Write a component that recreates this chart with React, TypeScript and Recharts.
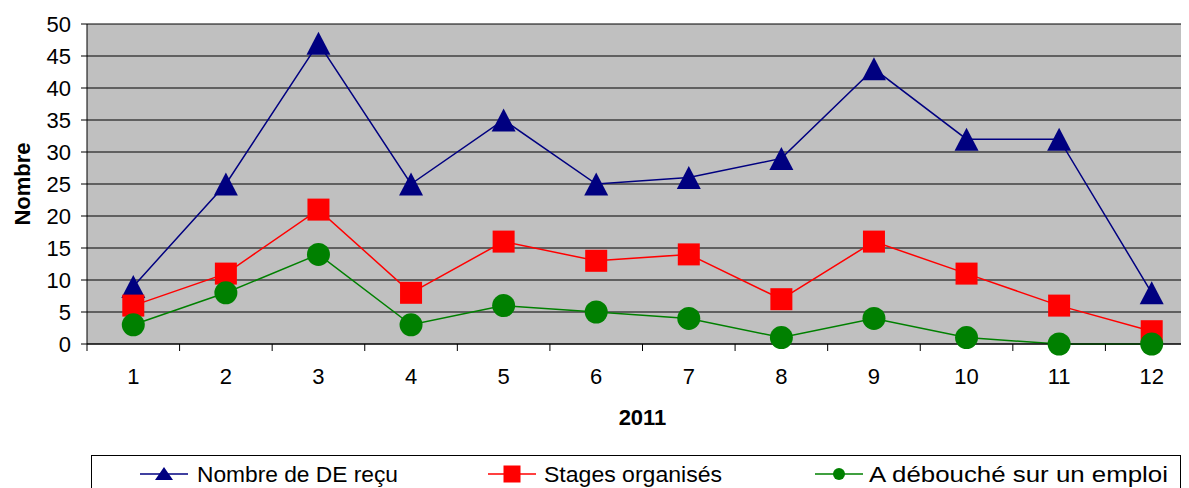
import React from 'react';
import { ComposedChart, Line, XAxis, YAxis, CartesianGrid, Legend } from 'recharts';

const months = ['1', '2', '3', '4', '5', '6', '7', '8', '9', '10', '11', '12'];
const deRecu = [9, 25, 47, 25, 35, 25, 26, 29, 43, 32, 32, 8];
const stages = [6, 11, 21, 8, 16, 13, 14, 7, 16, 11, 6, 2];
const emploi = [3, 8, 14, 3, 6, 5, 4, 1, 4, 1, 0, 0];
const yTicks = [0, 5, 10, 15, 20, 25, 30, 35, 40, 45, 50];

const SERIES_NAMES = ['Nombre de DE reçu', 'Stages organisés', 'A débouché sur un emploi'];
const COLORS = ['#000080', '#FF0000', '#008000'];

const data = months.map((m, i) => ({
  month: m,
  de: deRecu[i],
  stages: stages[i],
  emploi: emploi[i],
}));

const FONT = '"Liberation Sans", Arial, sans-serif';
const CHART_W = 1200;
const CHART_H = 500;
const MARGIN = { top: 24, right: 2, left: 0, bottom: 5 };
const YAXIS_W = 87;
const PLOT_W = CHART_W - MARGIN.left - MARGIN.right - YAXIS_W;
const HALF_BAND = PLOT_W / months.length / 2;

const Triangle = (props: any) => {
  const { cx, cy, index } = props;
  if (cx == null || cy == null) return <g key={`t-${index}`} />;
  return (
    <polygon
      key={`t-${index}`}
      points={`${cx},${cy - 11.5} ${cx + 12},${cy + 11.5} ${cx - 12},${cy + 11.5}`}
      fill={COLORS[0]}
    />
  );
};

const Square = (props: any) => {
  const { cx, cy, index } = props;
  if (cx == null || cy == null) return <g key={`s-${index}`} />;
  return <rect key={`s-${index}`} x={cx - 11} y={cy - 11} width={22} height={22} fill={COLORS[1]} />;
};

const Circle = (props: any) => {
  const { cx, cy, index } = props;
  if (cx == null || cy == null) return <g key={`c-${index}`} />;
  return <circle key={`c-${index}`} cx={cx} cy={cy} r={11.5} fill={COLORS[2]} />;
};

const XTick = (props: any) => {
  const { x, y, payload, index } = props;
  const axisY = y - 7;
  const isLast = index === months.length - 1;
  return (
    <g>
      <line x1={x - HALF_BAND} x2={x - HALF_BAND} y1={axisY} y2={axisY + 7} stroke="#000" />
      {isLast && <line x1={x + HALF_BAND} x2={x + HALF_BAND} y1={axisY} y2={axisY + 7} stroke="#000" />}
      <text x={x} y={axisY + 40} textAnchor="middle" fontSize={22} fontFamily={FONT} fill="#000">
        {payload.value}
      </text>
    </g>
  );
};

const LegendBox = (props: any) => {
  const raw = props.payload || [];
  const items = SERIES_NAMES.map((n) => raw.find((p: any) => p.value === n)).filter(Boolean);
  const lineStarts = [48, 396, 723];
  const textStarts = [105, 452, 777];
  const textLengths = [201, 178, 299];
  return (
    <div
      style={{
        height: 40,
        boxSizing: 'border-box',
        border: '1px solid #000',
        background: '#fff',
      }}
    >
      <svg width={1088} height={38} style={{ display: 'block' }}>
        {items.map((p: any, i: number) => {
          const x0 = lineStarts[i];
          const cx = x0 + 24;
          const cy = 18;
          const color = COLORS[i];
          let marker = null;
          if (i === 0) {
            marker = <polygon points={`${cx},${cy - 7} ${cx + 9},${cy + 6} ${cx - 9},${cy + 6}`} fill={color} />;
          } else if (i === 1) {
            marker = <rect x={cx - 8.5} y={cy - 8.5} width={17} height={17} fill={color} />;
          } else {
            marker = <circle cx={cx} cy={cy} r={6} fill={color} />;
          }
          return (
            <g key={`lg-${i}`}>
              <line x1={x0} x2={x0 + 48} y1={cy} y2={cy} stroke={color} strokeWidth={1.5} />
              {marker}
              <text
                x={textStarts[i]}
                y={26}
                fontSize={22}
                fontFamily={FONT}
                fill="#000"
                textLength={textLengths[i]}
                lengthAdjust="spacingAndGlyphs"
              >
                {p.value}
              </text>
            </g>
          );
        })}
      </svg>
    </div>
  );
};

export default function App() {
  return (
    <div
      style={{
        marginLeft: -8,
        marginTop: -8,
        width: 1185,
        height: 488,
        overflow: 'hidden',
        position: 'relative',
        background: '#fff',
      }}
    >
      <ComposedChart width={CHART_W} height={CHART_H} data={data} margin={MARGIN}>
        <CartesianGrid vertical={false} stroke="#000" fill="#C0C0C0" fillOpacity={1} />
        <XAxis
          dataKey="month"
          height={111}
          tickLine={false}
          tickSize={7}
          tickMargin={0}
          interval={0}
          padding={{ left: HALF_BAND, right: HALF_BAND }}
          axisLine={{ stroke: '#000' }}
          tick={<XTick />}
          label={{
            content: (lp: any) => {
              const vb = lp.viewBox || {};
              return (
                <text
                  x={vb.x + vb.width / 2}
                  y={vb.y + 81}
                  textAnchor="middle"
                  fontSize={22}
                  fontWeight="bold"
                  fontFamily={FONT}
                  fill="#000"
                >
                  2011
                </text>
              );
            },
          }}
        />
        <YAxis
          width={YAXIS_W}
          domain={[0, 50]}
          ticks={yTicks}
          interval={0}
          tickSize={6}
          tickMargin={10}
          axisLine={{ stroke: '#000' }}
          tickLine={{ stroke: '#000' }}
          tick={{ fontSize: 22, fontFamily: FONT, fill: '#000' }}
          label={{
            content: (lp: any) => {
              const vb = lp.viewBox || {};
              const cy = vb.y + vb.height / 2;
              return (
                <text
                  x={30}
                  y={cy}
                  transform={`rotate(-90, 30, ${cy})`}
                  textAnchor="middle"
                  fontSize={22}
                  fontWeight="bold"
                  fontFamily={FONT}
                  fill="#000"
                >
                  Nombre
                </text>
              );
            },
          }}
        />
        <Legend
          verticalAlign="bottom"
          content={<LegendBox />}
          wrapperStyle={{ left: 91, width: 1090 }}
        />
        <Line
          type="linear"
          dataKey="de"
          name={SERIES_NAMES[0]}
          stroke={COLORS[0]}
          strokeWidth={1.5}
          dot={Triangle}
          activeDot={false}
          isAnimationActive={false}
        />
        <Line
          type="linear"
          dataKey="stages"
          name={SERIES_NAMES[1]}
          stroke={COLORS[1]}
          strokeWidth={1.5}
          dot={Square}
          activeDot={false}
          isAnimationActive={false}
        />
        <Line
          type="linear"
          dataKey="emploi"
          name={SERIES_NAMES[2]}
          stroke={COLORS[2]}
          strokeWidth={1.5}
          dot={Circle}
          activeDot={false}
          isAnimationActive={false}
        />
      </ComposedChart>
    </div>
  );
}
